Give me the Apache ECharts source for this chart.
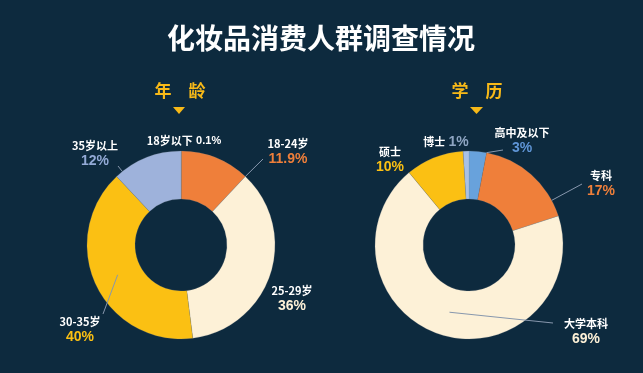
<!DOCTYPE html>
<html><head><meta charset="utf-8">
<script src="https://cdn.jsdelivr.net/npm/echarts@6/dist/echarts.min.js"></script>
<style>html,body{margin:0;padding:0;background:#0d2a3e;} #c{width:643px;height:373px;}</style>
</head><body><div id="c"></div>
<script>
// ---- data ----
const chartTitle = '化妆品消费人群调查情况';
const ageTitle = '年　龄';
const eduTitle = '学　历';
const ageNames = ['18岁以下', '18-24岁', '25-29岁', '30-35岁', '35岁以上'];
const ageValues = [0.1, 11.9, 36, 40, 12];
const eduNames = ['高中及以下', '专科', '大学本科', '硕士', '博士'];
const eduValues = [3, 17, 69, 10, 1];

// ---- styles ----
const BG = '#0d2a3e';
const ageColors = ['#c9ccd2', '#ef7f3a', '#fdf1d7', '#fbc013', '#9eb2db'];
const ageValueColors = ['#ffffff', '#ef7f3a', '#fdf1d7', '#fbc013', '#93aad6'];
const eduColors = ['#68a2dc', '#ef7f3a', '#fdf1d7', '#fbc013', '#a8c1e5'];
const eduValueColors = ['#5f95d6', '#ef7f3a', '#fdf1d7', '#fbc013', '#8ea5c2'];
const ageLabelPos = [
  {x: 184, y: 141, single: true, small: true},
  {x: 288, y: 152, line: {from: 'outer', end: [263, 159]}},
  {x: 292, y: 299},
  {x: 80, y: 330, line: {from: 'mid', end: [103, 314]}},
  {x: 95, y: 154, line: {from: 'outer', end: [118, 166]}}
];
const eduLabelPos = [
  {x: 522, y: 141, line: {from: 'outer', end: [503, 150]}},
  {x: 601, y: 184, line: {from: 'outer', end: [582, 184]}},
  {x: 586, y: 332, line: {from: 'mid', end: [553, 323]}},
  {x: 390, y: 160},
  {x: 446, y: 142, single: true}
];

const chart = echarts.init(document.getElementById('c'), null, {renderer: 'canvas'});
const NAME_FONT = "'Noto Sans CJK SC', 'Noto Sans', sans-serif";
const VAL_FONT = "'Liberation Sans', Arial, sans-serif";

function makeRich(valueColors) {
  const rich = {
    n: {color: '#ffffff', fontSize: 11, fontWeight: 'bold', fontFamily: NAME_FONT, lineHeight: 15},
    s: {color: '#ffffff', fontSize: 11, fontWeight: 'bold', fontFamily: VAL_FONT, lineHeight: 15}
  };
  valueColors.forEach((c, i) => {
    rich['v' + i] = {color: c, fontSize: 14, fontWeight: 'bold', fontFamily: VAL_FONT, lineHeight: 16};
  });
  return rich;
}

function makeFormatter(pos) {
  return function (p) {
    const st = pos[p.dataIndex];
    const val = p.value + '%';
    if (st.single) {
      return '{n|' + p.name + '} ' + (st.small ? '{s|' + val + '}' : '{v' + p.dataIndex + '|' + val + '}');
    }
    return '{n|' + p.name + '}\n{v' + p.dataIndex + '|' + val + '}';
  };
}

function norm(a, s) {
  while (a < s) a += Math.PI * 2;
  while (a >= s + Math.PI * 2) a -= Math.PI * 2;
  return a;
}

function makeLayout(pos) {
  return function (params) {
    const st = pos[params.dataIndex];
    const out = {x: st.x, y: st.y, align: 'center', verticalAlign: 'middle'};
    if (st.line) {
      let lay = null;
      try {
        lay = chart.getModel().getSeriesByIndex(params.seriesIndex).getData().getItemLayout(params.dataIndex);
      } catch (e) { lay = null; }
      if (lay) {
        const s = Math.min(lay.startAngle, lay.endAngle);
        const e = Math.max(lay.startAngle, lay.endAngle);
        let ang, r;
        if (st.line.from === 'mid') {
          ang = (s + e) / 2;
          r = (lay.r + lay.r0) / 2;
        } else {
          ang = norm(Math.atan2(st.line.end[1] - lay.cy, st.line.end[0] - lay.cx), s);
          if (ang > e) {
            ang = (ang - e) < (s + Math.PI * 2 - ang) ? e : s;
          }
          r = lay.r;
        }
        const start = [lay.cx + r * Math.cos(ang), lay.cy + r * Math.sin(ang)];
        out.labelLinePoints = [start, st.line.end, st.line.end];
      }
    }
    return out;
  };
}

function ringSeries(names, values, colors, center) {
  return {
    type: 'pie',
    z: 2,
    center: center,
    radius: [46, 94],
    startAngle: 90,
    clockwise: true,
    silent: true,
    animation: false,
    itemStyle: {borderColor: 'rgba(120,130,140,0.5)', borderWidth: 0.4},
    label: {show: false},
    labelLine: {show: false},
    data: names.map((n, i) => ({name: n, value: values[i], itemStyle: {color: colors[i]}}))
  };
}

function labelSeries(names, values, valueColors, pos, center) {
  return {
    type: 'pie',
    z: 5,
    center: center,
    radius: [46, 94],
    startAngle: 90,
    clockwise: true,
    avoidLabelOverlap: false,
    silent: true,
    animation: false,
    itemStyle: {color: 'rgba(0,0,0,0)', borderWidth: 0},
    label: {show: true, position: 'outside', formatter: makeFormatter(pos), rich: makeRich(valueColors)},
    labelLine: {show: true, length: 5, length2: 5, lineStyle: {color: '#8797ad', width: 1}},
    labelLayout: makeLayout(pos),
    data: names.map((n, i) => ({
      name: n,
      value: values[i],
      labelLine: {show: !!pos[i].line}
    }))
  };
}

const titleFont = "bold 28px 'Noto Sans CJK SC', sans-serif";
const subFont = "bold 17px 'Noto Sans CJK SC', sans-serif";
const SUB_COLOR = '#f7b918';

chart.setOption({
  backgroundColor: BG,
  animation: false,
  graphic: [
    {type: 'text', x: 321, y: 38, style: {text: chartTitle, fill: '#ffffff', font: titleFont, textAlign: 'center', textVerticalAlign: 'middle', align: 'center', verticalAlign: 'middle'}},
    {type: 'text', x: 180, y: 91, style: {text: ageTitle, fill: SUB_COLOR, font: subFont, textAlign: 'center', textVerticalAlign: 'middle', align: 'center', verticalAlign: 'middle'}},
    {type: 'text', x: 477, y: 91, style: {text: eduTitle, fill: SUB_COLOR, font: subFont, textAlign: 'center', textVerticalAlign: 'middle', align: 'center', verticalAlign: 'middle'}},
    {type: 'polygon', shape: {points: [[173, 107], [185, 107], [179, 114]]}, style: {fill: SUB_COLOR}},
    {type: 'polygon', shape: {points: [[470, 107], [483, 107], [476.5, 114]]}, style: {fill: SUB_COLOR}}
  ],
  series: [
    ringSeries(ageNames, ageValues, ageColors, [181, 245]),
    ringSeries(eduNames, eduValues, eduColors, [469, 245]),
    labelSeries(ageNames, ageValues, ageValueColors, ageLabelPos, [181, 245]),
    labelSeries(eduNames, eduValues, eduValueColors, eduLabelPos, [469, 245])
  ]
});
</script>
</body></html>
